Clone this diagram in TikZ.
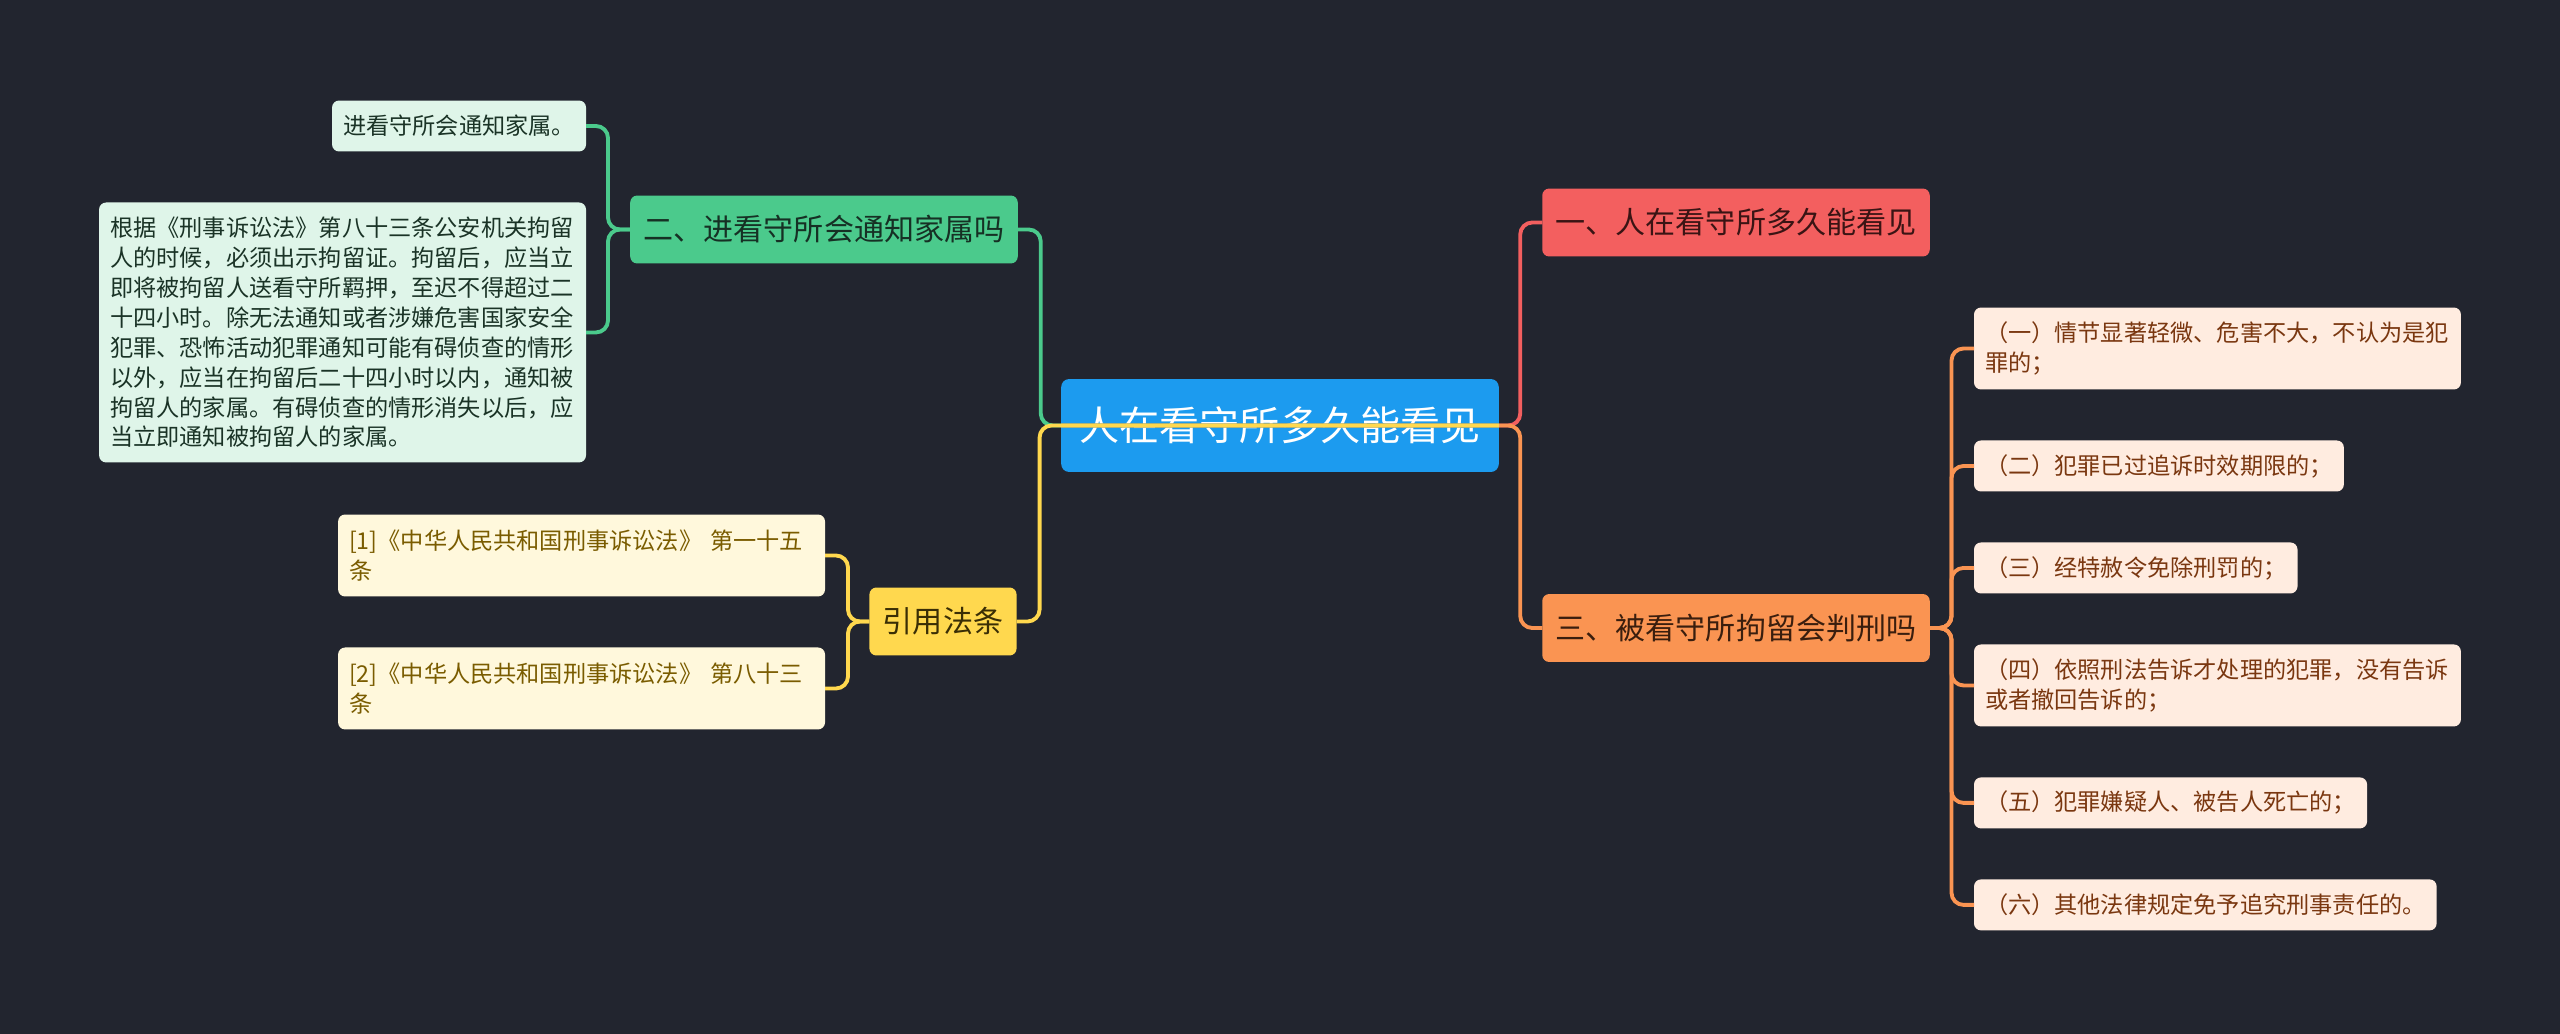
\documentclass[tikz,border=0pt]{standalone}
\usepackage{fontspec}
\setmainfont{Noto Sans CJK SC}
\usetikzlibrary{positioning}

\definecolor{bgcol}{HTML}{22252F}
\definecolor{cBlue}{HTML}{1C9BEF}
\definecolor{cRed}{HTML}{F35F5F}
\definecolor{cOrange}{HTML}{FA9452}
\definecolor{cGreen}{HTML}{4BCA8C}
\definecolor{cYellow}{HTML}{FFD84E}
\definecolor{gLeaf}{HTML}{DFF5E9}
\definecolor{yLeaf}{HTML}{FFF8DC}
\definecolor{oLeaf}{HTML}{FFECE0}
\definecolor{tRed}{HTML}{3A1414}
\definecolor{tOrange}{HTML}{3A1E0E}
\definecolor{tGreen}{HTML}{163024}
\definecolor{tYellow}{HTML}{3A2E05}
\definecolor{gText}{HTML}{1A3326}
\definecolor{yText}{HTML}{7A5C00}
\definecolor{oText}{HTML}{7A3710}

\begin{document}
\begin{tikzpicture}[
  x=0.02cm, y=-0.02cm,    % 1 = 1px
  line width=2.2pt,
  node distance=1.02cm,   % 叶子之间的间隔
  root/.style={fill=cBlue, text=white, rounded corners=0.16cm, minimum height=1.86cm,
    inner xsep=0.37cm, outer sep=0pt, font=\fontsize{22.8pt}{26pt}\selectfont},
  topic/.style={rounded corners=0.14cm, minimum height=1.36cm, inner xsep=0.27cm,
    outer sep=0pt, font=\fontsize{17.1pt}{20pt}\selectfont},
  leaf/.style={rounded corners=0.14cm, minimum height=1.02cm, inner xsep=0.22cm,
    inner ysep=0pt, outer sep=0pt, align=left, font=\fontsize{13.2pt}{17pt}\selectfont},
  longleaf/.style={leaf, text width=9.3cm, minimum height=1.64cm},
  edge/.style={rounded corners=0.24cm}
  ]

  \useasboundingbox (0,0) rectangle (2560,1034);
  \fill[bgcol] (0,0) rectangle (2560,1034);

  % --- 中心主题 ---
  \node [root] (root) at (1280,425.5) {人在看守所多久能看见};

  % --- 右侧分支 ---
  \node [topic, fill=cRed, text=tRed] (t1) at (1736,222.5) {一、人在看守所多久能看见};
  \node [topic, fill=cOrange, text=tOrange] (t3) at (1736,628) {三、被看守所拘留会判刑吗};

  \node [longleaf, fill=oLeaf, text=oText, anchor=west] (o1) at (1974,348.5)
    {（一）情节显著轻微、危害不大，不认为是犯\\罪的；};
  \node [leaf, fill=oLeaf, text=oText, below=of o1.south west, anchor=north west] (o2)
    {（二）犯罪已过追诉时效期限的；};
  \node [leaf, fill=oLeaf, text=oText, below=of o2.south west, anchor=north west] (o3)
    {（三）经特赦令免除刑罚的；};
  \node [longleaf, fill=oLeaf, text=oText, below=of o3.south west, anchor=north west] (o4)
    {（四）依照刑法告诉才处理的犯罪，没有告诉\\或者撤回告诉的；};
  \node [leaf, fill=oLeaf, text=oText, below=of o4.south west, anchor=north west] (o5)
    {（五）犯罪嫌疑人、被告人死亡的；};
  \node [leaf, fill=oLeaf, text=oText, below=of o5.south west, anchor=north west] (o6)
    {（六）其他法律规定免予追究刑事责任的。};

  % --- 左侧分支 ---
  \node [topic, fill=cGreen, text=tGreen] (t2) at (824,229.5) {二、进看守所会通知家属吗};
  \node [topic, fill=cYellow, text=tYellow] (cite) at (943,621.5) {引用法条};

  \node [leaf, fill=gLeaf, text=gText, anchor=east] (g1) at (586,126) {进看守所会通知家属。};
  \node [longleaf, minimum height=5.2cm, fill=gLeaf, text=gText,
    below=of g1.south east, anchor=north east] (g2)
    {根据《刑事诉讼法》第八十三条公安机关拘留\\
     人的时候，必须出示拘留证。拘留后，应当立\\
     即将被拘留人送看守所羁押，至迟不得超过二\\
     十四小时。除无法通知或者涉嫌危害国家安全\\
     犯罪、恐怖活动犯罪通知可能有碍侦查的情形\\
     以外，应当在拘留后二十四小时以内，通知被\\
     拘留人的家属。有碍侦查的情形消失以后，应\\
     当立即通知被拘留人的家属。};

  \node [longleaf, fill=yLeaf, text=yText, anchor=east] (c1) at (825,555.5)
    {[1]《中华人民共和国刑事诉讼法》 第一十五\\条};
  \node [longleaf, fill=yLeaf, text=yText, below=of c1.south east, anchor=north east] (c2)
    {[2]《中华人民共和国刑事诉讼法》 第八十三\\条};

  % --- 连线 ---
  \draw [edge, cRed] (root.west) -| ([xshift=-0.44cm]t1.west) -- (t1.west);
  \draw [edge, cOrange] (root.west) -| ([xshift=-0.44cm]t3.west) -- (t3.west);
  \draw [edge, cGreen] (root.east) -| ([xshift=0.46cm]t2.east) -- (t2.east);
  \draw [edge, cYellow] (root.east) -| ([xshift=0.46cm]cite.east) -- (cite.east);

  \draw [edge, cOrange] (t3.east) -| ([xshift=-0.45cm]o1.west) -- (o1.west);
  \draw [edge, cOrange] (t3.east) -| ([xshift=-0.45cm]o2.west) -- (o2.west);
  \draw [edge, cOrange] (t3.east) -| ([xshift=-0.45cm]o3.west) -- (o3.west);
  \draw [edge, cOrange] (t3.east) -| ([xshift=-0.45cm]o4.west) -- (o4.west);
  \draw [edge, cOrange] (t3.east) -| ([xshift=-0.45cm]o5.west) -- (o5.west);
  \draw [edge, cOrange] (t3.east) -| ([xshift=-0.45cm]o6.west) -- (o6.west);

  \draw [edge, cGreen] (t2.west) -| ([xshift=0.44cm]g1.east) -- (g1.east);
  \draw [edge, cGreen] (t2.west) -| ([xshift=0.44cm]g2.east) -- (g2.east);

  \draw [edge, cYellow] (cite.west) -| ([xshift=0.46cm]c1.east) -- (c1.east);
  \draw [edge, cYellow] (cite.west) -| ([xshift=0.46cm]c2.east) -- (c2.east);

\end{tikzpicture}
\end{document}
